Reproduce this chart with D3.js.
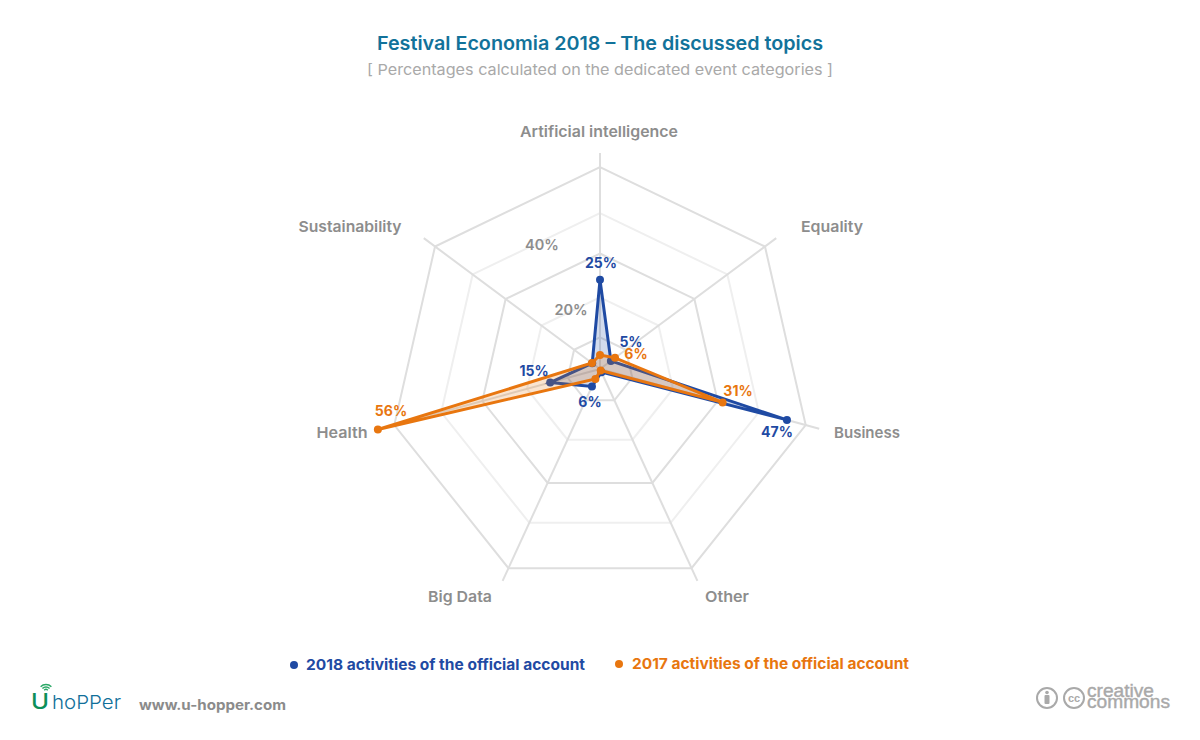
<!DOCTYPE html>
<html><head><meta charset="utf-8">
<script src="https://cdn.jsdelivr.net/npm/d3@7"></script>
<style>html,body{margin:0;background:#fff}svg{display:block}text{font-family:Inter,"Open Sans",sans-serif}</style>
</head><body><svg id="c" width="1200" height="740"></svg>
<script>
const categories=["Artificial intelligence","Equality","Business","Other","Big Data","Health","Sustainability"];
const values2018=[24,4.2,46,1,5.6,14.3,3];
const values2017=[4.4,5.8,31.2,0.5,3.2,53.5,3.1];
const ringLevels=[10,20,30,40,50];
const ringFractions=[0,0.157,0.355,0.572,0.772,1,1.228];
const radialDomain=[0,10,20,30,40,50,60];
const axisTicks=[{t:"20%",x:571,y:310},{t:"40%",x:542,y:244.5}];
const BLUE="#1f4aa3",ORANGE="#e8760f",GRID="#dedede",GRIDL="#efefef",GREY="#8d8d8d";
const svg=d3.select("#c");
const cx=600,oy=369,R=211,shift=0.043;
const frac=d3.scaleLinear().domain(radialDomain).range(ringFractions);
const ang=d3.scaleLinear().domain([0,categories.length]).range([0,2*Math.PI]);
const pt=(i,f)=>[cx+f*R*Math.sin(ang(i)),oy+f*R*(-Math.cos(ang(i))+shift)];
const line=d3.line().curve(d3.curveLinearClosed);
function txt(s,x,y,o){const e=svg.append("text").text(s).attr("x",x).attr("y",y)
 .attr("text-anchor",o.a||"middle").attr("font-size",o.s).attr("font-weight",o.w||700).attr("fill",o.c);
 if(o.l){e.attr("textLength",o.l).attr("lengthAdjust","spacingAndGlyphs");}
 if(o.f)e.style("font-family",o.f);return e;}
// grid
ringLevels.forEach((v,k)=>{svg.append("path").attr("d",line(categories.map((_,i)=>pt(i,frac(v)))))
 .attr("fill","none").attr("stroke",k%2===0?GRID:GRIDL).attr("stroke-width",2);});
categories.forEach((_,i)=>{const p=pt(i,1);const len=Math.hypot(p[0]-cx,p[1]-oy);const ext=(len+14)/len;
 const e=pt(i,ext);svg.append("line").attr("x1",cx).attr("y1",oy).attr("x2",e[0]).attr("y2",e[1])
 .attr("stroke",GRID).attr("stroke-width",2);});
// series
[[values2018,BLUE],[values2017,ORANGE]].forEach(([vals,col])=>{
 const pts=vals.map((v,i)=>pt(i,frac(v)));
 svg.append("path").attr("d",line(pts)).attr("fill",col).attr("fill-opacity",0.2).attr("stroke",col).attr("stroke-width",3).attr("stroke-linejoin","miter");
 svg.selectAll(null).data(pts).enter().append("circle").attr("cx",d=>d[0]).attr("cy",d=>d[1]).attr("r",4).attr("fill",col);
});
// titles
txt("Festival Economia 2018 – The discussed topics",600,49.5,{s:19,w:600,c:"#12729a",l:446});
txt("[ Percentages calculated on the dedicated event categories ]",600,75,{s:15,w:400,c:"#a9a9a9",l:466});
// category labels
[[599,137,158],[832,232,62],[867,438,66],[727,602,44],[460,602,64],[342,438,51],[350,232,103]].forEach((p,i)=>
 txt(categories[i],p[0],p[1],{s:15,w:600,c:GREY,l:p[2]}));
// axis tick labels
axisTicks.forEach(d=>txt(d.t,d.x,d.y,{s:14.5,w:600,c:GREY}).attr("dy",5));
// value labels
[["25%",601,268,BLUE],["5%",631,347,BLUE],["6%",636,359,ORANGE],["31%",738,396,ORANGE],["47%",777,437,BLUE],["56%",391,416,ORANGE],["15%",534,376,BLUE],["6%",590,407,BLUE]]
 .forEach(d=>txt(d[0],d[1],d[2],{s:14,w:700,c:d[3]}));
// legend
svg.append("circle").attr("cx",294).attr("cy",665).attr("r",4).attr("fill",BLUE);
txt("2018 activities of the official account",306,670,{a:"start",s:15,w:700,c:BLUE,l:279});
svg.append("circle").attr("cx",619).attr("cy",664).attr("r",4).attr("fill",ORANGE);
txt("2017 activities of the official account",632,669,{a:"start",s:15,w:700,c:ORANGE,l:277});
// footer
txt("www.u-hopper.com",139,710,{a:"start",s:14,w:700,c:"#8b8b8b",l:147});
txt("U",31,708.5,{a:"start",s:21,w:500,c:"#0d8f5a",l:18});
txt("hoPPer",52,709,{a:"start",s:19,w:300,c:"#11709a",l:69});
[[2.5,1.4],[5,1.4],[7.5,1.4]].forEach(([r,w])=>{const a=d3.arc().innerRadius(r-w/2).outerRadius(r+w/2).startAngle(-0.8).endAngle(0.8);
 svg.append("path").attr("d",a()).attr("transform","translate(46,692)").attr("fill","#2aa866");});
// creative commons
const CC="#a9a9a9";
svg.append("circle").attr("cx",1047).attr("cy",698).attr("r",10).attr("fill","none").attr("stroke",CC).attr("stroke-width",2);
svg.append("circle").attr("cx",1047).attr("cy",692.5).attr("r",1.8).attr("fill",CC);
svg.append("rect").attr("x",1044.5).attr("y",695).attr("width",5).attr("height",9).attr("rx",1).attr("fill",CC);
svg.append("circle").attr("cx",1074).attr("cy",698).attr("r",10).attr("fill","none").attr("stroke",CC).attr("stroke-width",2);
txt("cc",1074,702,{s:11,w:700,c:CC,f:"Liberation Sans"});
txt("creative",1087,697,{a:"start",s:18.5,w:400,c:CC,l:67,f:"Liberation Sans"}).attr("stroke",CC).attr("stroke-width",0.4);
txt("commons",1087,708,{a:"start",s:18.5,w:400,c:CC,l:83,f:"Liberation Sans"}).attr("stroke",CC).attr("stroke-width",0.4);
</script></body></html>
